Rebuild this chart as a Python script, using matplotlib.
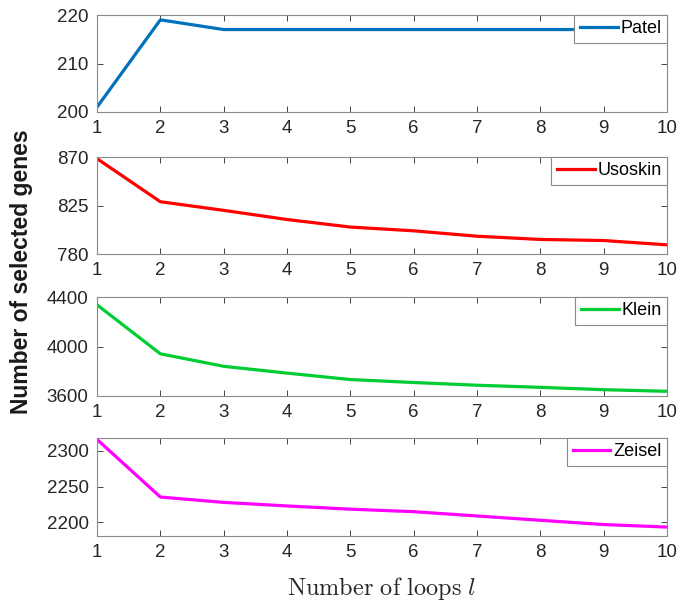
import matplotlib
matplotlib.use("Agg")
import matplotlib.pyplot as plt

loops = [1, 2, 3, 4, 5, 6, 7, 8, 9, 10]
patel = [201, 219, 217, 217, 217, 217, 217, 217, 217, 217]
usoskin = [868.5, 828.5, 820.5, 812, 805, 801.5, 796.5, 793.5, 792.5, 788.5]
klein = [4337, 3941, 3840, 3785, 3733, 3709, 3687, 3670, 3651, 3638]
zeisel = [2316, 2235.5, 2228, 2223, 2218.5, 2215, 2209, 2203, 2197, 2193.5]

names = ["Patel", "Usoskin", "Klein", "Zeisel"]
series = [patel, usoskin, klein, zeisel]
colors = ["#0072BD", "#FF0000", "#00CC33", "#FF00FF"]
ylims = [(200, 220), (780, 870), (3600, 4400), (2181, 2318)]
yticks = [[200, 210, 220], [780, 825, 870], [3600, 4000, 4400], [2200, 2250, 2300]]

plt.rcParams['font.family'] = ['Liberation Sans', 'DejaVu Sans']
plt.rcParams['mathtext.fontset'] = 'cm'

fig = plt.figure(figsize=(6.91, 6.01), dpi=100)
W, H = 691, 601
boxes = [(15, 112), (157, 254), (297, 396), (438, 536)]
left, right = 97, 667
spine_col = "#8a8a8a"
for (top, bot), name, vals, col, yl, yt in zip(boxes, names, series, colors, ylims, yticks):
    ax = fig.add_axes([left / W, 1 - bot / H, (right - left) / W, (bot - top) / H])
    ax.plot(loops, vals, color=col, lw=2.3, label=name)
    ax.set_xlim(1, 10)
    ax.set_ylim(*yl)
    ax.set_xticks(loops)
    ax.set_yticks(yt)
    ax.tick_params(direction='in', top=True, right=True, labelsize=13.5,
                   colors='#262626', length=4, width=0.6, pad=6)
    for t in ax.get_xticklines() + ax.get_yticklines():
        t.set_color(spine_col)
    for s in ax.spines.values():
        s.set_color(spine_col)
        s.set_linewidth(0.8)
    leg = ax.legend(loc='upper right', fontsize=13, frameon=True, fancybox=False,
                    borderaxespad=0.0, handlelength=2.1, handletextpad=0.15,
                    borderpad=0.3, framealpha=1.0)
    leg.get_frame().set_edgecolor(spine_col)
    leg.get_frame().set_linewidth(0.8)

fig.text(22 / W, 1 - 272 / H, "Number of selected genes", rotation=90,
         ha='center', va='center', fontsize=16.5, fontweight='bold', color='#1a1a1a')
fig.text(382 / W, 1 - 588 / H, r"$\mathrm{Number\ of\ loops}\ l$",
         ha='center', va='center', fontsize=17.5, color='#262626')

fig.savefig("out.png", dpi=100)
